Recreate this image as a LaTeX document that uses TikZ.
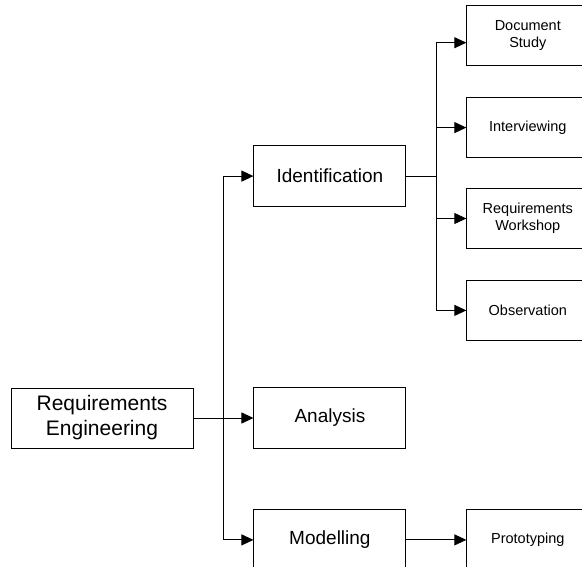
\documentclass[tikz,border=0pt]{standalone}
\usepackage{fontspec}
\setmainfont{Liberation Sans}
\usetikzlibrary{arrows.meta,positioning}

\begin{document}
\begin{tikzpicture}[x=1pt,y=-1pt,
	>={Triangle[length=12pt,width=11pt]},
	line width=0.9pt,
	node distance=60pt,
	box/.style = {draw, rectangle, align=center, inner sep=2pt},
	root/.style = {box, minimum width=182pt, minimum height=60pt, font=\fontsize{21}{25}\selectfont},
	mid/.style = {box, minimum width=152pt, minimum height=61pt, font=\fontsize{19}{23}\selectfont},
	leaf/.style = {box, minimum width=122pt, minimum height=60pt, font=\fontsize{14.5}{17}\selectfont}
	]
	\clip (0,0) rectangle (582,567);
	
	\node (re) [root] at (102,418) {Requirements\\Engineering};
	
	\node (ana) [mid,right=of re]   {Analysis};
	\node (idf) [mid,above=180pt of ana]   {Identification};
	\node (mod) [mid,below=of ana]   {Modelling};
	
	\node (intv) [leaf,right=of idf,yshift=48.5pt]   {Interviewing};
	\node (doc) [leaf,above=31pt of intv]   {Document\\Study};
	\node (rw) [leaf,below=30pt of intv]   {Requirements\\Workshop};
	\node (obs) [leaf,below=31pt of rw]   {Observation};
	\node (proto) [leaf,right=of mod]   {Prototyping};
	
	\coordinate (trunk) at (223,418);
	\coordinate (fork) at ([xshift=30pt]idf.east);
	
	\draw[->] (re) -- (ana);
	\draw[->] (trunk) |- (idf);
	\draw[->] (trunk) |- (mod);
	
	\draw (idf) -- (fork);
	\draw[->] (fork) |- ([yshift=-7pt]doc.west);
	\draw[->] (fork) |- (intv);
	\draw[->] (fork) |- (rw);
	\draw[->] (fork) |- (obs);
	
	\draw[->] (mod) -- (proto);
\end{tikzpicture}
\end{document}
